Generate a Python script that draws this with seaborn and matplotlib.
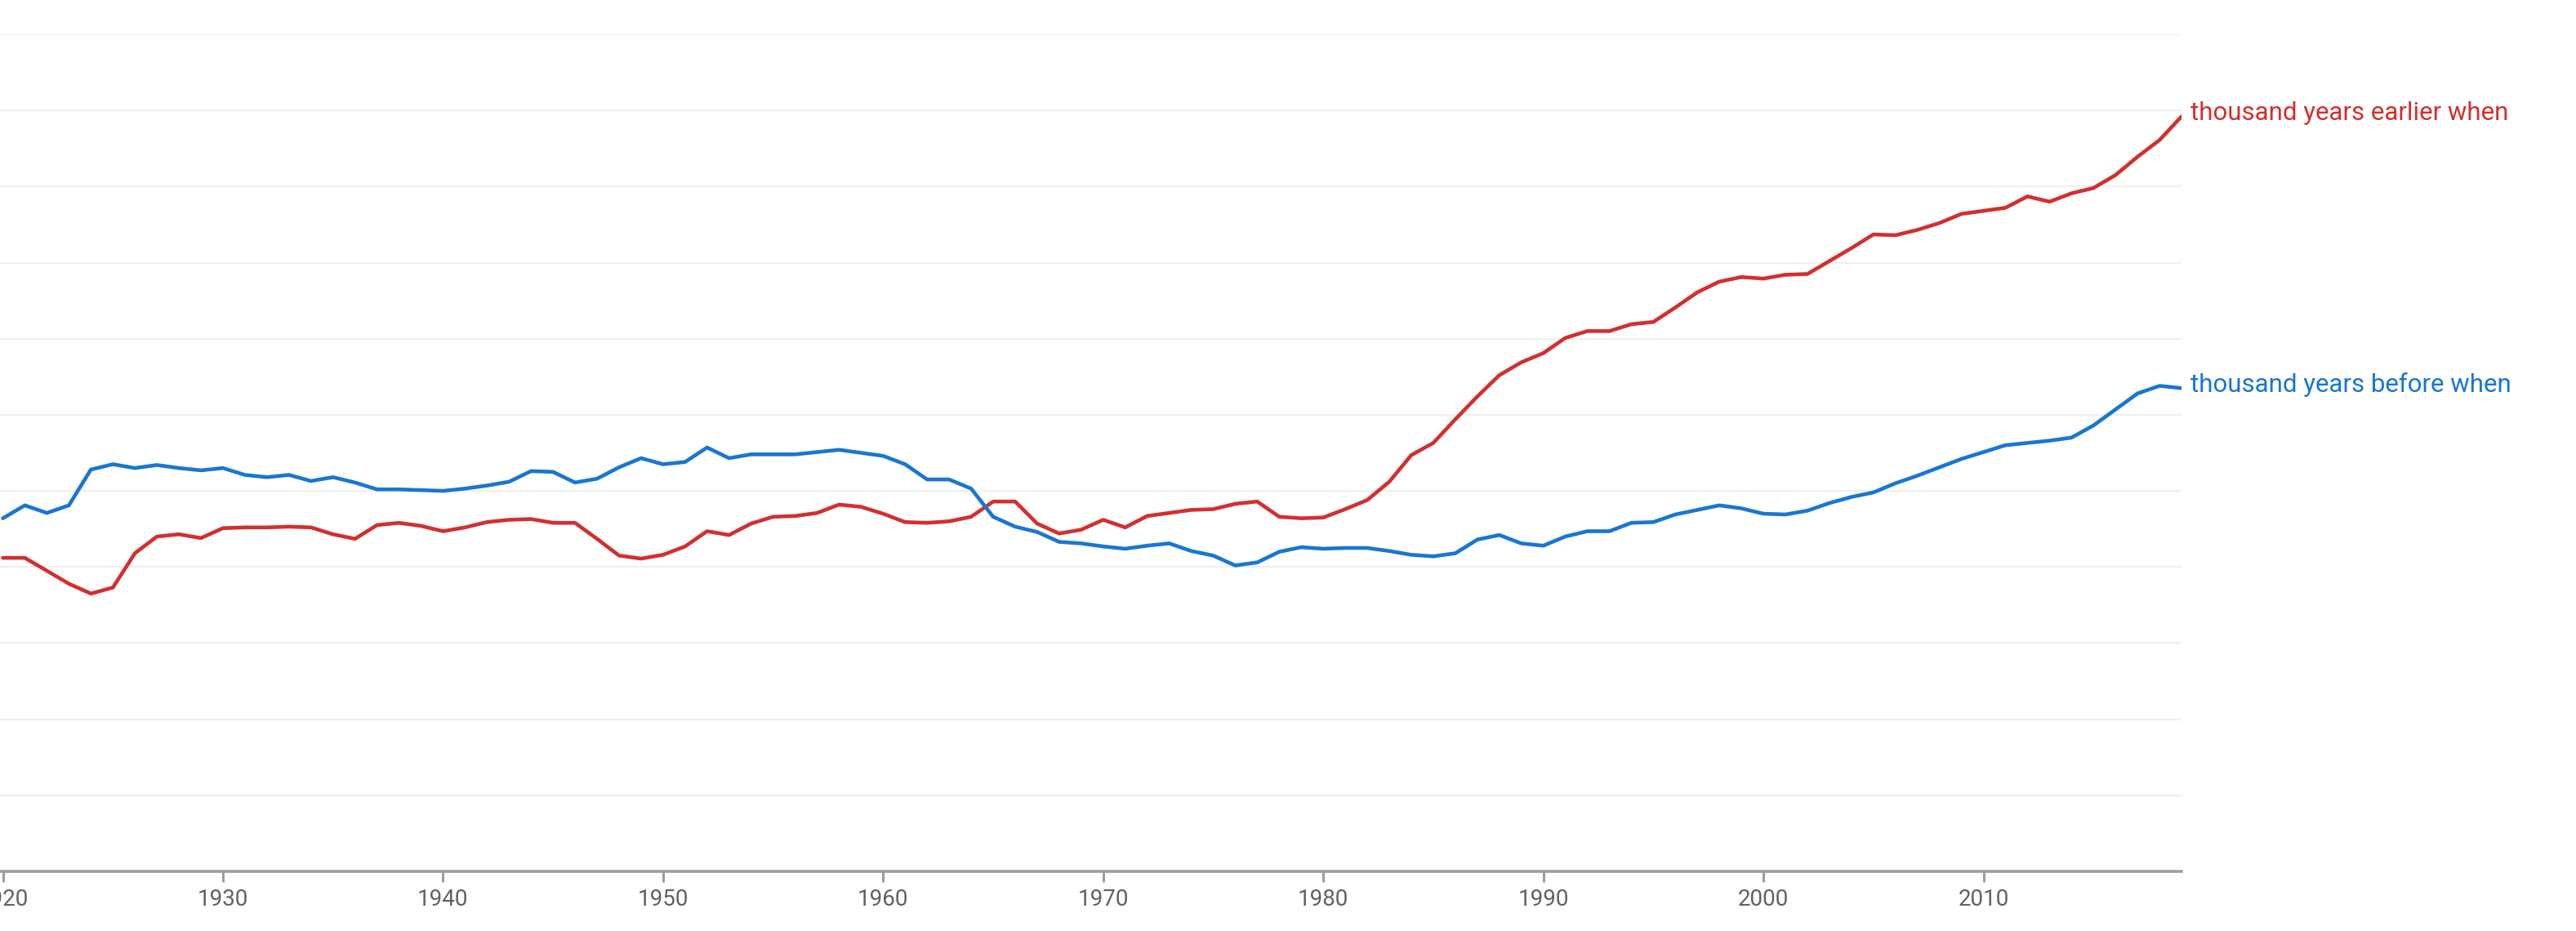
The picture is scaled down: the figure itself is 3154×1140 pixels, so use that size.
import matplotlib
matplotlib.use("Agg")
import matplotlib.pyplot as plt
import seaborn as sns
import pandas as pd

# yearly values (arbitrary units, one unit per gridline)
years = list(range(1920, 2020))

earlier_when = [
    4.12, 4.12, 3.95, 3.78, 3.65, 3.73, 4.18, 4.40, 4.43, 4.38,
    4.51, 4.52, 4.52, 4.53, 4.52, 4.43, 4.37, 4.55, 4.58, 4.54,
    4.47, 4.52, 4.59, 4.62, 4.63, 4.58, 4.58, 4.37, 4.15, 4.11,
    4.16, 4.27, 4.47, 4.42, 4.57, 4.66, 4.67, 4.71, 4.82, 4.79,
    4.70, 4.59, 4.58, 4.60, 4.66, 4.86, 4.86, 4.57, 4.44, 4.49,
    4.62, 4.52, 4.67, 4.71, 4.75, 4.76, 4.83, 4.86, 4.66, 4.64,
    4.65, 4.76, 4.88, 5.12, 5.47, 5.63, 5.94, 6.24, 6.52, 6.69,
    6.81, 7.01, 7.10, 7.10, 7.19, 7.22, 7.41, 7.61, 7.75, 7.81,
    7.79, 7.84, 7.85, 8.02, 8.19, 8.37, 8.36, 8.43, 8.52, 8.64,
    8.68, 8.72, 8.87, 8.80, 8.91, 8.98, 9.15, 9.39, 9.61, 9.92,
]

before_when = [
    4.64, 4.81, 4.71, 4.81, 5.28, 5.35, 5.30, 5.34, 5.30, 5.27,
    5.30, 5.21, 5.18, 5.21, 5.13, 5.18, 5.11, 5.02, 5.02, 5.01,
    5.00, 5.03, 5.07, 5.12, 5.26, 5.25, 5.11, 5.16, 5.31, 5.43,
    5.35, 5.38, 5.57, 5.43, 5.48, 5.48, 5.48, 5.51, 5.54, 5.50,
    5.46, 5.35, 5.15, 5.15, 5.03, 4.66, 4.53, 4.46, 4.33, 4.31,
    4.27, 4.24, 4.28, 4.31, 4.21, 4.15, 4.02, 4.06, 4.20, 4.26,
    4.24, 4.25, 4.25, 4.21, 4.16, 4.14, 4.18, 4.36, 4.42, 4.31,
    4.28, 4.40, 4.47, 4.47, 4.58, 4.59, 4.69, 4.75, 4.81, 4.77,
    4.70, 4.69, 4.74, 4.84, 4.92, 4.98, 5.10, 5.20, 5.31, 5.42,
    5.51, 5.60, 5.63, 5.66, 5.70, 5.86, 6.07, 6.28, 6.38, 6.35,
]

series_names = ["thousand years earlier when", "thousand years before when"]
series_colors = ["#d32f2f", "#1976d2"]

df = pd.DataFrame({
    "year": years * 2,
    "value": earlier_when + before_when,
    "phrase": [series_names[0]] * len(years) + [series_names[1]] * len(years),
})

sns.set_style("white")
plt.rcParams["font.family"] = ["Roboto", "DejaVu Sans"]

fig = plt.figure(figsize=(31.54, 11.40), dpi=100)
ax = fig.add_axes([0.0, 1 - 1067 / 1140, 2671 / 3154, (1067 - 42) / 1140])

# light horizontal gridlines
for g in range(1, 12):
    ax.axhline(g, color="#efefef", lw=1.6, zorder=0)

sns.lineplot(data=df, x="year", y="value", hue="phrase",
             palette=dict(zip(series_names, series_colors)),
             lw=3.3, legend=False, ax=ax)

# series labels at the end of each line
for name, col, vals in zip(series_names, series_colors, [earlier_when, before_when]):
    ax.annotate(name, xy=(years[-1], vals[-1]), xytext=(8, 3),
                textcoords="offset points", color=col, fontsize=22.5,
                va="center", ha="left", annotation_clip=False)

ax.set_xlim(1919.87, 2019)
ax.set_ylim(0, 11)
ax.set_xticks(range(1920, 2020, 10))
ax.set_xticklabels([str(y) for y in range(1920, 2020, 10)])
ax.set_yticks([])
ax.set_xlabel("")
ax.set_ylabel("")

for s in ["top", "right", "left"]:
    ax.spines[s].set_visible(False)
ax.spines["bottom"].set_color("#9e9e9e")
ax.spines["bottom"].set_linewidth(2.6)
ax.tick_params(axis="x", bottom=True, length=9, width=2.2, color="#9e9e9e",
               labelsize=20, labelcolor="#616161", pad=6)

fig.savefig("out.png", dpi=100)
